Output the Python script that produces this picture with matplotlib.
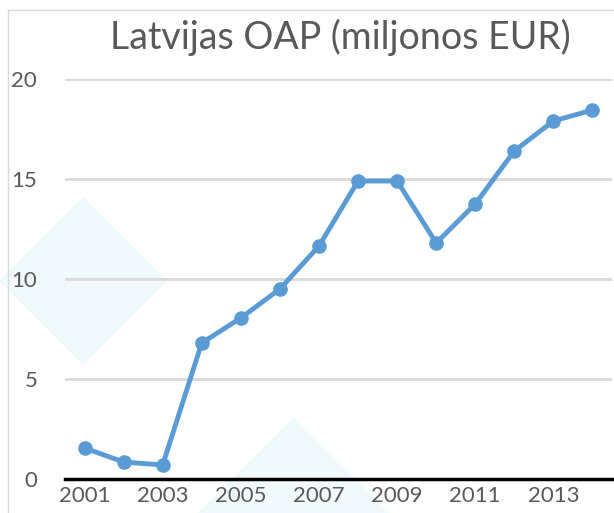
import matplotlib.pyplot as plt
from matplotlib.patches import Polygon, Rectangle

years = [2001, 2002, 2003, 2004, 2005, 2006, 2007, 2008, 2009, 2010, 2011, 2012, 2013, 2014]
oap = [1.55, 0.85, 0.7, 6.8, 8.05, 9.5, 11.65, 14.9, 14.9, 11.8, 13.75, 16.4, 17.9, 18.45]
tick_years = [2001, 2003, 2005, 2007, 2009, 2011, 2013]

plt.rcParams['font.family'] = ['Lato', 'DejaVu Sans']

W, H = 614, 513
fig = plt.figure(figsize=(W / 100, H / 100), dpi=100)

def px(x, y):
    return (x / W, 1 - y / H)

# faint background shapes
for pts in ([(83, 197), (167, 281), (83, 365), (-1, 281)],
            [(294, 417), (390, 513), (198, 513)]):
    fig.patches.append(Polygon([px(*p) for p in pts], closed=True,
                               transform=fig.transFigure, facecolor='#f0fafc',
                               edgecolor='none', zorder=0))
# chart border
fig.patches.append(Rectangle(px(8, 600), 700 / W, 590 / H, transform=fig.transFigure,
                             facecolor='none', edgecolor='#d9d9d9', lw=1, zorder=0))

ax = fig.add_axes([65 / W, 1 - 479 / H, (612 - 65) / W, 400 / H])
ax.set_zorder(2)
ax.patch.set_alpha(0)
ax.plot(years, oap, color='#5b9bd5', lw=3.5, marker='o', markersize=9.5, zorder=3,
        solid_capstyle='round')
ax.set_xlim(2000.5, 2014.5)
ax.set_ylim(0, 20)
ax.set_yticks([0, 5, 10, 15, 20])
ax.set_xticks(tick_years)
ax.grid(axis='y', color='#d9d9d9', lw=2)
ax.set_axisbelow(True)
for s in ['top', 'right', 'left']:
    ax.spines[s].set_visible(False)
ax.spines['bottom'].set_color('black')
ax.spines['bottom'].set_linewidth(2.5)
ax.tick_params(length=0, colors='#595959', labelsize=16)
ax.tick_params(axis='y', pad=20)
ax.tick_params(axis='x', pad=5)

fig.text(340 / W, 1 - 37 / H, 'Latvijas OAP (miljonos EUR)', ha='center', va='center',
         fontsize=27, color='#595959')

fig.savefig('out.png', dpi=100)
